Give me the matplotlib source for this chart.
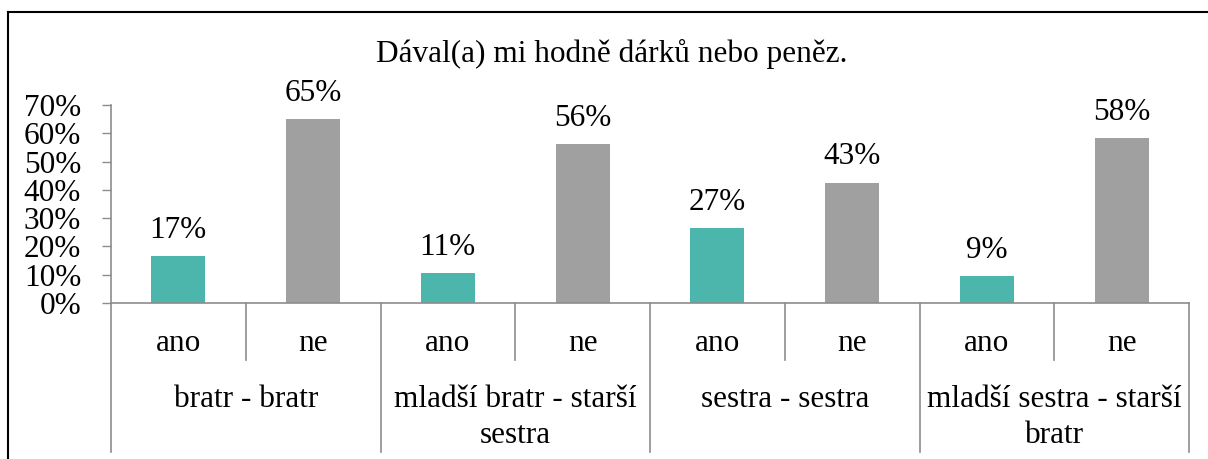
"""
Graf: Dával(a) mi hodně dárků nebo peněz.
"""
import numpy as np
import matplotlib
matplotlib.use("Agg")
import matplotlib.pyplot as plt
from matplotlib.lines import Line2D
from matplotlib.transforms import blended_transform_factory

# Data
skupiny = ["bratr - bratr", "mladší bratr - starší\nsestra",
           "sestra - sestra", "mladší sestra - starší\nbratr"]
odpovedi = ["ano", "ne"]
ano = [16.6, 10.7, 26.6, 9.4]
ne = [65.0, 56.1, 42.6, 58.2]
yticks = [0, 10, 20, 30, 40, 50, 60, 70]

barva_ano = "#4DB6AC"
barva_ne = "#A0A0A0"
barva_osy = "#8C8C8C"
FS = 22.5

plt.rcParams['font.family'] = ['Liberation Serif', 'DejaVu Serif']

W, H = 1208, 459
fig = plt.figure(figsize=(W / 100, H / 100), dpi=100)

# oblast grafu v pixelech
x0, x1 = 111, 1189
y_top, y_bot = 105, 303
ax = fig.add_axes([x0 / W, 1 - y_bot / H, (x1 - x0) / W, (y_bot - y_top) / H])

hodnoty = []
barvy = []
for a, n in zip(ano, ne):
    hodnoty += [a, n]
    barvy += [barva_ano, barva_ne]
pozice = np.arange(len(hodnoty))

ax.bar(pozice, hodnoty, width=0.4, color=barvy, zorder=2)
for p, v in zip(pozice, hodnoty):
    ax.annotate(f"{v:.0f}%", (p, v), xytext=(0, 13), textcoords="offset points",
                ha="center", va="baseline", fontsize=FS)

ax.set_xlim(-0.5, len(hodnoty) - 0.5)
ax.set_ylim(0, 70)
ax.set_yticks(yticks)
ax.set_yticklabels([f"{t}%" for t in yticks], fontsize=FS)
ax.set_xticks([])
ax.tick_params(axis="y", length=6.5, width=1, color=barva_osy, pad=15)

for s in ["top", "right"]:
    ax.spines[s].set_visible(False)
for s in ["left", "bottom"]:
    ax.spines[s].set_color(barva_osy)
    ax.spines[s].set_linewidth(1.2)
ax.patch.set_alpha(0)

# popisky kategorii a oddelovace
tr = blended_transform_factory(ax.transData, fig.transFigure)
y_vnitrni = 1 - 360 / H
y_vnejsi = 1 - 452 / H
for i in range(len(hodnoty)):
    ax.text(i, 1 - 351 / H, odpovedi[i % 2], transform=tr,
            ha="center", va="baseline", fontsize=FS)
for i in range(len(hodnoty) + 1):
    x = i - 0.5
    y_konec = y_vnejsi if i % 2 == 0 else y_vnitrni
    ax.add_line(Line2D([x, x], [1 - y_bot / H, y_konec], transform=tr,
                       color=barva_osy, lw=1.2, clip_on=False))
radky_y = [407, 443]
for g, nazev in enumerate(skupiny):
    for radek, y in zip(nazev.split("\n"), radky_y):
        ax.text(2 * g + 0.5, 1 - y / H, radek, transform=tr,
                ha="center", va="baseline", fontsize=FS)

# titulek
fig.text(612 / W, 1 - 62 / H, "Dával(a) mi hodně dárků nebo peněz.",
         ha="center", va="baseline", fontsize=FS)

# ramecek
fig.add_artist(Line2D([8 / W, 8 / W], [0, 1 - 12 / H], transform=fig.transFigure,
                      color="black", lw=1.5))
fig.add_artist(Line2D([8 / W, 1], [1 - 12 / H, 1 - 12 / H], transform=fig.transFigure,
                      color="black", lw=1.5))

fig.savefig("out.png", dpi=100)
plt.close(fig)
